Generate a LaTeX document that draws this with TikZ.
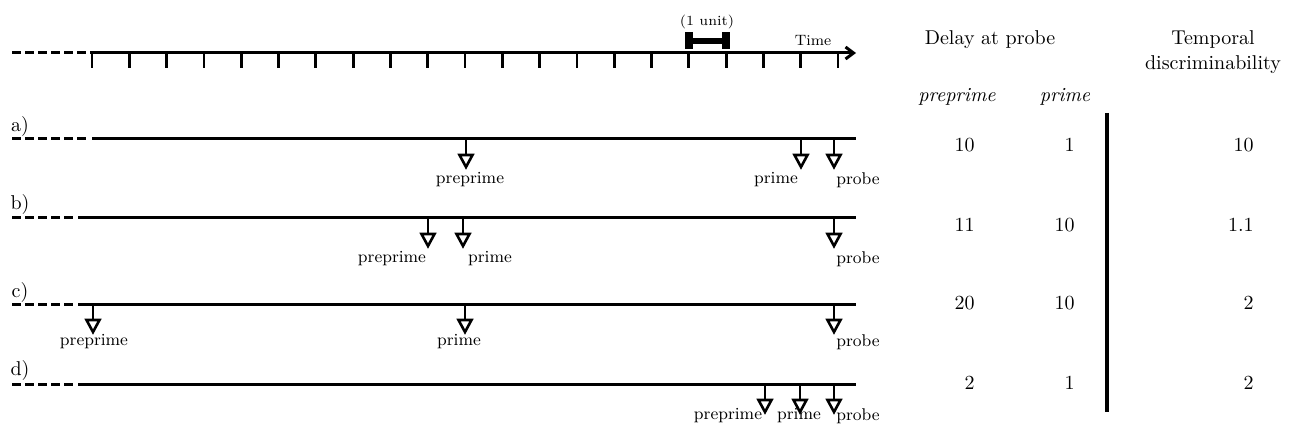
\documentclass[tikz,border=0pt]{standalone}
\usetikzlibrary{arrows.meta}
\begin{document}
\tikzset{
  tl/.style={line width=1.5pt},
  dsh/.style={line width=1.5pt, dash pattern=on 4.5pt off 2pt},
  tck/.style={line width=1.4pt},
  mk/.style={line width=1.3pt},
  lbl/.style={font=\fontsize{8.5}{10}\selectfont, inner sep=0pt},
  small/.style={font=\fontsize{7}{8}\selectfont, inner sep=0pt},
  hdr/.style={font=\fontsize{10}{12.5}\selectfont, inner sep=0pt, align=center},
  ihdr/.style={font=\fontsize{10}{12.5}\selectfont\itshape, inner sep=0pt},
  num/.style={font=\fontsize{10}{12}\selectfont, inner sep=0pt, anchor=east},
  rowlbl/.style={font=\fontsize{10}{12}\selectfont, inner sep=0pt},
}
\newcommand\mymarker[2]{%
  \draw[mk] (#1,#2) -- ++(0,16);
  \draw[mk, line join=miter] (#1-6.5,#2+16) -- (#1+6.5,#2+16) -- (#1,#2+28) -- cycle;}
\begin{tikzpicture}[x=0.5pt,y=-0.5pt]
\useasboundingbox (0,0) rectangle (1292,433);
% time axis
\draw[dsh] (12,53) -- (88,53);
\draw[tl, -{Straight Barb[length=4pt,width=6pt]}] (90,53) -- (856,53);
\foreach \i in {0,...,20} \draw[tck] ({92+\i*37.3},53) -- ++(0,15);
\fill (685,32) rectangle (693,49);
\fill (722,32) rectangle (730,49);
\fill (693,38) rectangle (722,44);
\node[small] (unit) at (707,22) {(1 unit)};
\node[small, font=\fontsize{7.5}{9}\selectfont] (time) at (813,41) {Time};
% headers
\node[hdr] (delay) at (990,40) {Delay at probe};
\node[hdr] (temp) at (1213,52) {Temporal\\discriminability};
\node[ihdr] (hpre) at (957,97) {preprime};
\node[ihdr] (hprime) at (1065,97) {prime};
\draw[line width=1.6pt] (1107,113) -- (1107,412);
% numbers
\node[num] (a1) at (975,145) {10};
\node[num] (a2) at (1075,145) {1};
\node[num] (a3) at (1254,145) {10};
\node[num] (b1) at (975,225) {11};
\node[num] (b2) at (1075,225) {10};
\node[num] (b3) at (1254,225) {1.1};
\node[num] (c1) at (975,303) {20};
\node[num] (c2) at (1075,303) {10};
\node[num] (c3) at (1254,303) {2};
\node[num] (d1) at (975,383) {2};
\node[num] (d2) at (1075,383) {1};
\node[num] (d3) at (1254,383) {2};
% row a
\node[rowlbl] (la) at (20,127) {a)};
\draw[dsh] (12,139) -- (87,139);
\draw[tl] (92,139) -- (856,139);
\mymarker{466}{139}\mymarker{801}{139}\mymarker{834}{139}
\node[lbl] (apre) at (470,180) {preprime};
\node[lbl] (apr) at (776,180) {prime};
\node[lbl] (apb) at (858,180) {probe};
% row b
\node[rowlbl] (lb) at (20,205) {b)};
\draw[dsh] (12,218) -- (75,218);
\draw[tl] (78,218) -- (856,218);
\mymarker{428}{218}\mymarker{463}{218}\mymarker{834}{218}
\node[lbl] (bpre) at (392,259) {preprime};
\node[lbl] (bpr) at (490,259) {prime};
\node[lbl] (bpb) at (858,259) {probe};
% row c
\node[rowlbl] (lc) at (20,292) {c)};
\draw[dsh] (12,304) -- (75,304);
\draw[tl] (78,304) -- (856,304);
\mymarker{93}{304}\mymarker{465}{304}\mymarker{834}{304}
\node[lbl] (cpre) at (94,342) {preprime};
\node[lbl] (cpr) at (459,342) {prime};
\node[lbl] (cpb) at (858,342) {probe};
% row d
\node[rowlbl] (ld) at (20,370) {d)};
\draw[dsh] (12,384) -- (75,384);
\draw[tl] (78,384) -- (856,384);
\mymarker{765}{384}\mymarker{800}{384}\mymarker{834}{384}
\node[lbl] (dpre) at (728,416) {preprime};
\node[lbl] (dpr) at (799,416) {prime};
\node[lbl] (dpb) at (858,416) {probe};
\end{tikzpicture}
\end{document}
